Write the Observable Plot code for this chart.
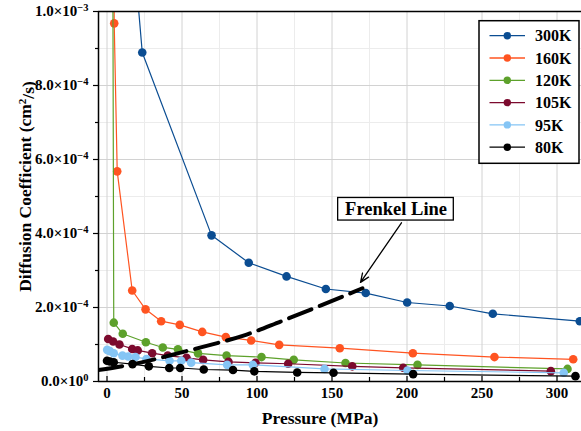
<!DOCTYPE html>
<html>
<head>
<meta charset="utf-8">
<script src="https://cdn.jsdelivr.net/npm/d3@7"></script>
<script src="https://cdn.jsdelivr.net/npm/@observablehq/plot@0.6"></script>
<style>
  html, body { margin: 0; padding: 0; background: white; }
  #chart { position: relative; width: 581px; height: 431px; overflow: hidden; }
</style>
</head>
<body>
<div id="chart"></div>
<script>
// ---------- data ----------
const seriesNames  = ["300K", "160K", "120K", "105K", "95K", "80K"];
const seriesColors = ["#0b4d92", "#ff5421", "#5da12b", "#7c0a2e", "#85c5f5", "#000000"];

const p300 = [17, 23.5, 69.7, 94.5, 119.7, 145.9, 172.5, 200.1, 228.5, 257.2, 315.2];
const d300 = [1.2e-3, 8.89e-4, 3.95e-4, 3.21e-4, 2.84e-4, 2.5e-4, 2.39e-4, 2.135e-4, 2.04e-4, 1.83e-4, 1.63e-4];

const p160 = [4.3, 4.8, 6.8, 16.8, 25.7, 36.1, 48.5, 63.5, 79.2, 96.1, 114.8, 155.2, 203.9, 258.3, 310.8];
const d160 = [1.6e-3, 9.68e-4, 5.68e-4, 2.46e-4, 1.95e-4, 1.63e-4, 1.53e-4, 1.34e-4, 1.2e-4, 1.11e-4, 9.9e-5, 9.0e-5, 7.65e-5, 6.6e-5, 6.0e-5];

const p120 = [3.0, 4.5, 10.5, 25.9, 37.2, 47.3, 60.7, 79.7, 103, 124.5, 159, 207, 307];
const d120 = [2.5e-3, 1.59e-4, 1.29e-4, 1.06e-4, 9.2e-5, 8.7e-5, 7.6e-5, 7.0e-5, 6.6e-5, 5.85e-5, 5.0e-5, 4.5e-5, 3.4e-5];

const p105 = [0.8, 4.1, 8.3, 16.8, 20.5, 30.1, 40.5, 53, 64.1, 81, 99, 120.8, 163.5, 197.5, 295.9];
const d105 = [1.15e-4, 1.08e-4, 1.0e-4, 8.8e-5, 8.4e-5, 7.65e-5, 7.0e-5, 6.4e-5, 5.85e-5, 5.3e-5, 5.05e-5, 4.8e-5, 4.1e-5, 3.7e-5, 2.8e-5];

const p95 = [0.1, 1.9, 4.5, 10.3, 14.1, 19, 26.3, 41.7, 49.5, 56.1, 80.1, 97.2, 145, 200.3, 304.5];
const d95 = [8.55e-5, 8.2e-5, 7.65e-5, 7.0e-5, 6.75e-5, 6.6e-5, 6.1e-5, 5.6e-5, 5.6e-5, 5.1e-5, 4.5e-5, 4.5e-5, 3.4e-5, 2.97e-5, 2.35e-5];

const p80 = [0, 1.9, 4.5, 17, 27.9, 41.5, 48.8, 64.5, 84, 98.2, 126.8, 151, 204.1, 312.3];
const d80 = [5.6e-5, 5.4e-5, 5.2e-5, 4.7e-5, 4.1e-5, 3.65e-5, 3.65e-5, 3.25e-5, 3.1e-5, 2.75e-5, 2.45e-5, 2.35e-5, 2.0e-5, 1.45e-5];

const pFrenkel = [-5.7, 22.3, 49, 69, 91, 115.7, 142.3, 170.3];
const dFrenkel = [3.1e-5, 5.1e-5, 7.8e-5, 9.9e-5, 1.24e-4, 1.62e-4, 2.05e-4, 2.52e-4];

const xTicks = [0, 50, 100, 150, 200, 250, 300];
const xMinorTicks = [25, 75, 125, 175, 225, 275];
const yTicks = [0, 2e-4, 4e-4, 6e-4, 8e-4, 1e-3];
const yMinorTicks = [1e-4, 3e-4, 5e-4, 7e-4, 9e-4];
const yTickMantissa = ["0.0", "2.0", "4.0", "6.0", "8.0", "1.0"];
const yTickExponent = ["0", "\u22124", "\u22124", "\u22124", "\u22124", "\u22123"];

const xLabel = "Pressure (MPa)";
const yLabelMain = "Diffusion Coefficient (cm";
const yLabelSup = "2";
const yLabelEnd = "/s)";
const frenkelText = "Frenkel Line";

// ---------- build ----------
const pressures = [p300, p160, p120, p105, p95, p80];
const diffusions = [d300, d160, d120, d105, d95, d80];
const seriesData = seriesNames.map((name, i) =>
  pressures[i].map((p, j) => ({series: name, p, d: diffusions[i][j]})));
const frenkel = pFrenkel.map((p, j) => ({p, d: dFrenkel[j]}));

const xDomain = [-5.67, 316.33];
const serif = "'Liberation Serif', 'Times New Roman', 'DejaVu Serif', serif";

// annotation placement (data coordinates)
const boxX = [154.1, 231.2], boxY = [4.35e-4, 4.96e-4];
const labelAt = [192.7, 4.655e-4];
const arrowFrom = [196.3, 4.29e-4], arrowTo = [169, 2.68e-4];

const marks = [
  Plot.gridX(xMinorTicks, {stroke: "#ececec", strokeOpacity: 1}),
  Plot.gridY(yMinorTicks, {stroke: "#ececec", strokeOpacity: 1}),
  Plot.gridX(xTicks, {stroke: "#d2d2d2", strokeOpacity: 1}),
  Plot.gridY(yTicks, {stroke: "#d2d2d2", strokeOpacity: 1}),
];
seriesData.forEach((pts, i) => {
  marks.push(Plot.line(pts, {x: "p", y: "d", stroke: seriesColors[i], strokeWidth: 1.2, clip: true}));
  marks.push(Plot.dot(pts, {x: "p", y: "d", fill: seriesColors[i], r: 4.3, clip: true}));
});
marks.push(
  Plot.line(frenkel, {x: "p", y: "d", stroke: "black", strokeWidth: 4, strokeDasharray: "24,9", curve: "monotone-x", clip: true}),
  Plot.arrow([0], {x1: arrowFrom[0], y1: arrowFrom[1], x2: arrowTo[0], y2: arrowTo[1], stroke: "black", strokeWidth: 1.3, headLength: 11, headAngle: 45}),
  Plot.rect([0], {x1: boxX[0], x2: boxX[1], y1: boxY[0], y2: boxY[1], fill: "white", stroke: "black", strokeWidth: 1.3}),
  Plot.text([frenkelText], {x: labelAt[0], y: labelAt[1], text: d => d, fontSize: 18.5, fontWeight: "bold", fill: "black"}),
  // frame lines
  Plot.ruleY([0], {stroke: "black", strokeWidth: 1.5}),
  Plot.ruleY([1e-3], {stroke: "black", strokeWidth: 1.5}),
  Plot.ruleX([xDomain[0]], {stroke: "black", strokeWidth: 1.5}),
  // inward x ticks
  Plot.tickX(xTicks, {x: d => d, insetTop: 365, stroke: "black", strokeWidth: 1.2}),
  Plot.tickX(xMinorTicks, {x: d => d, insetTop: 366, stroke: "black", strokeWidth: 1.2}),
  Plot.axisX(xTicks, {tickSize: 0, tickPadding: 6, fontSize: 15, fontWeight: "bold", label: null}),
  Plot.axisY(yTicks, {tickSize: 5, tickPadding: 5, fontSize: 15, fontWeight: "bold", label: null, strokeWidth: 1.2,
    tickFormat: d => { const k = yTicks.indexOf(d); return yTickMantissa[k] + "\u00d710^" + yTickExponent[k]; }}),
  Plot.axisY(yMinorTicks, {tickSize: 3, label: null, strokeWidth: 1.2, tickFormat: () => ""})
);

const chart = Plot.plot({
  width: 581,
  height: 431,
  marginLeft: 98,
  marginRight: 0,
  marginTop: 11,
  marginBottom: 50,
  style: {fontFamily: serif, fontWeight: "bold", fontSize: "15px", background: "white", color: "black", overflow: "visible"},
  x: {domain: xDomain, label: null},
  y: {domain: [0, 1e-3], label: null},
  marks
});

// superscript exponents on y tick labels
d3.select(chart).selectAll('g[aria-label="y-axis tick label"] text').each(function() {
  const s = this.textContent;
  if (!s.includes("^")) return;
  const [m, e] = s.split("^");
  this.textContent = m;
  d3.select(this).append("tspan").attr("dy", "-0.55em").attr("font-size", "10.5px").text(e);
});

const svg = d3.select(chart);
// axis titles
svg.append("text").attr("x", 320).attr("y", 418).attr("dy", "0.35em")
  .attr("text-anchor", "middle").attr("font-family", serif).attr("font-weight", "bold")
  .attr("font-size", 17.5).attr("fill", "black").text(xLabel);
const yl = svg.append("text").attr("transform", "translate(25,186.5) rotate(-90)").attr("dy", "0.35em")
  .attr("text-anchor", "middle").attr("font-family", serif).attr("font-weight", "bold")
  .attr("font-size", 17.5).attr("fill", "black");
yl.append("tspan").text(yLabelMain);
yl.append("tspan").attr("dy", "-0.45em").attr("font-size", 11).text(yLabelSup);
yl.append("tspan").attr("dy", "0.45em").text(yLabelEnd);

// legend (inside the plot, upper right)
const lg = svg.append("g").attr("font-family", serif).attr("font-weight", "bold");
const legX = 479, legY = 20.7, legW = 100, legH = 142.6, rowH = 22.3, row0 = 35.7;
lg.append("rect").attr("x", legX).attr("y", legY).attr("width", legW).attr("height", legH)
  .attr("fill", "white").attr("stroke", "black").attr("stroke-width", 1.5);
seriesNames.forEach((name, i) => {
  const y = row0 + i * rowH;
  lg.append("line").attr("x1", 489.5).attr("x2", 525).attr("y1", y).attr("y2", y)
    .attr("stroke", seriesColors[i]).attr("stroke-width", 1.3);
  lg.append("circle").attr("cx", 507.3).attr("cy", y).attr("r", 3.7).attr("fill", seriesColors[i]);
  lg.append("text").attr("x", 535).attr("y", y).attr("dy", "0.35em").attr("font-size", 16)
    .attr("text-anchor", "start").attr("fill", "black").text(name);
});

document.getElementById("chart").appendChild(chart);
</script>
</body>
</html>
